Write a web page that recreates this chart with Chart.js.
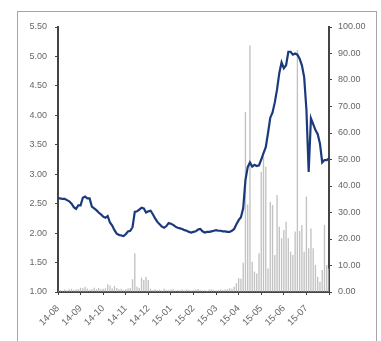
<!DOCTYPE html>
<html><head><meta charset="utf-8">
<script src="https://cdn.jsdelivr.net/npm/chart.js@4"></script>
<style>
html,body{margin:0;padding:0;background:#fff;}
#wrap{position:relative;width:381px;height:341px;overflow:hidden;}
#frame{position:absolute;left:17px;top:11px;width:360px;height:340px;border:1px solid #a6a6a6;box-sizing:border-box;}
canvas{position:absolute;left:0;top:0;}
</style></head><body>
<div id="wrap"><div id="frame"></div><canvas id="c" width="381" height="341"></canvas></div>
<script>
// month tick labels (each month sampled at 10 points)
const months = ['14-08','14-09','14-10','14-11','14-12','15-01','15-02','15-03','15-04','15-05','15-06','15-07'];
const pointsPerMonth = 10;

// left axis series (line)
const priceValues = [
2.59,2.59,2.58,2.58,2.56,2.54,2.50,2.44,2.41,2.47,
2.47,2.60,2.62,2.59,2.59,2.45,2.42,2.39,2.35,2.32,
2.28,2.26,2.29,2.18,2.13,2.05,1.99,1.97,1.96,1.95,
1.98,2.03,2.04,2.10,2.36,2.37,2.40,2.43,2.42,2.35,
2.37,2.38,2.32,2.25,2.19,2.15,2.11,2.09,2.12,2.17,
2.16,2.14,2.11,2.09,2.08,2.07,2.05,2.04,2.02,2.01,
2.02,2.03,2.06,2.07,2.03,2.01,2.02,2.02,2.03,2.04,
2.05,2.04,2.04,2.03,2.03,2.02,2.02,2.04,2.07,2.15,
2.22,2.27,2.42,2.90,3.12,3.20,3.13,3.16,3.14,3.15,
3.25,3.36,3.46,3.70,3.96,4.05,4.22,4.44,4.72,4.90,
4.80,4.85,5.08,5.08,5.03,5.05,5.03,4.96,4.85,4.65,
4.10,3.04,3.95,3.85,3.75,3.68,3.52,3.20,3.24,3.24,
3.27];

// right axis series (bars)
const volumeValues = [
0.5,0.8,0.6,0.9,0.7,1.0,1.2,0.8,0.9,1.1,
1.6,1.4,2.0,1.3,0.9,1.0,1.6,1.1,1.5,1.0,
1.2,1.4,2.9,2.5,1.3,2.3,1.5,1.0,1.2,0.8,
1.0,1.3,1.5,4.8,14.6,2.0,1.5,5.4,4.5,5.8,
4.5,1.2,0.8,1.0,0.7,0.9,0.6,1.2,0.8,0.7,
0.9,1.0,0.6,0.8,0.7,0.9,0.6,1.0,0.8,0.6,
0.7,0.9,1.1,0.8,0.6,0.7,0.5,0.9,1.0,0.8,
0.6,0.7,1.0,0.8,0.9,1.1,1.4,1.2,2.0,3.3,
5.2,5.0,11.0,68.0,33.0,93.0,11.4,7.7,7.0,14.6,
45.4,51.0,47.3,8.9,34.0,32.8,14.0,36.6,24.6,20.3,
23.4,26.5,20.3,15.2,14.0,22.8,91.3,23.0,25.3,15.2,
36.0,16.5,24.0,16.5,10.2,5.8,3.9,8.3,25.3,10.2,
8.9];

const labels = priceValues.map((v, i) => {
  const m = Math.floor(i / pointsPerMonth);
  return (months[m] || '15-08') + '#' + (i % pointsPerMonth);
});

Chart.defaults.font.family = "'Liberation Sans', Arial, sans-serif";
Chart.defaults.font.size = 9;
Chart.defaults.color = '#666';

const axisColor = '#444';

new Chart(document.getElementById('c'), {
  type: 'bar',
  data: {
    labels: labels,
    datasets: [
      {
        type: 'line',
        data: priceValues,
        yAxisID: 'y',
        borderColor: '#1B3A7E',
        borderWidth: 2.2,
        pointRadius: 0,
        tension: 0,
        order: 0
      },
      {
        type: 'bar',
        data: volumeValues,
        yAxisID: 'y1',
        backgroundColor: '#C2C2C2',
        barPercentage: 0.6,
        categoryPercentage: 1,
        order: 1
      }
    ]
  },
  options: {
    responsive: false,
    animation: false,
    devicePixelRatio: 1,
    layout: { padding: { top: 27, left: 0, right: 0, bottom: 0 } },
    plugins: { legend: { display: false }, tooltip: { enabled: false } },
    scales: {
      x: {
        offset: false,
        grid: {
          offset: false,
          drawOnChartArea: false,
          drawTicks: true,
          tickLength: 3,
          color: ctx => (ctx.index % pointsPerMonth === 0) ? axisColor : 'rgba(0,0,0,0)'
        },
        border: { color: axisColor, width: 2 },
        ticks: {
          autoSkip: false,
          maxRotation: 45,
          minRotation: 45,
          padding: 8,
          font: { size: 9.5 },
          callback: function (value, index) {
            return (index % pointsPerMonth === 0 && index / pointsPerMonth < months.length) ? months[index / pointsPerMonth] : '';
          }
        },
        afterFit: s => { s.height = 49; }
      },
      y: {
        position: 'left',
        min: 1, max: 5.5,
        grid: { drawOnChartArea: false, tickLength: 3, color: axisColor },
        border: { color: axisColor, width: 2 },
        ticks: { stepSize: 0.5, padding: 8, callback: v => Number(v).toFixed(2) },
        afterFit: s => { s.width = 58; }
      },
      y1: {
        position: 'right',
        min: 0, max: 100,
        grid: { drawOnChartArea: false, tickLength: 3, color: axisColor },
        border: { color: axisColor, width: 2 },
        ticks: { stepSize: 10, padding: 6, callback: v => Number(v).toFixed(2) },
        afterFit: s => { s.width = 52; }
      }
    }
  }
});
</script>
</body></html>
